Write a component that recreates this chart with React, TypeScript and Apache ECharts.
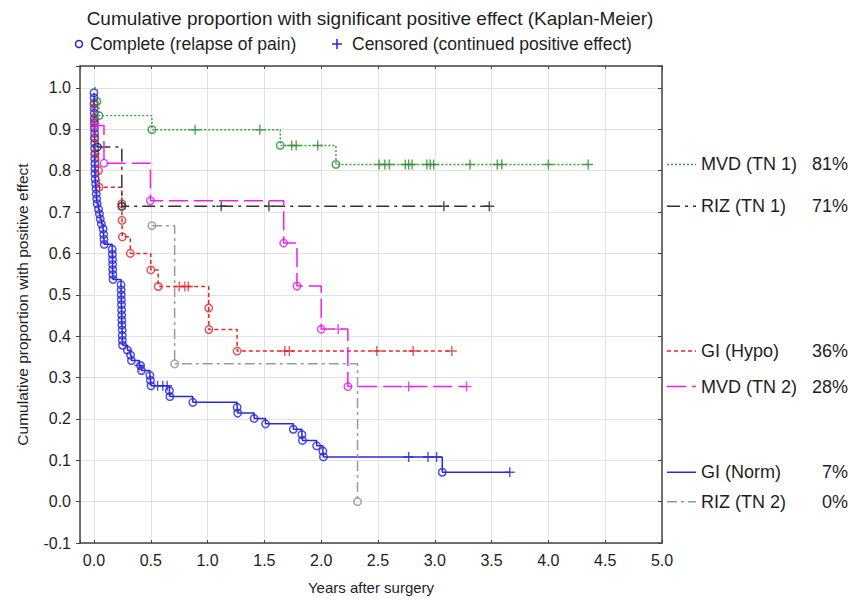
import React, { useEffect, useRef } from 'react';
import * as echarts from 'echarts';

const FONT = '"Liberation Sans", Arial, Helvetica, sans-serif';

const TITLE = 'Cumulative proportion with significant positive effect (Kaplan-Meier)';
const LEGEND_COMPLETE = 'Complete (relapse of pain)';
const LEGEND_CENSORED = 'Censored (continued positive effect)';
const X_NAME = 'Years after surgery';
const Y_NAME = 'Cumulative proportion with positive effect';

const GROUP_NAMES = ['MVD (TN 1)', 'RIZ (TN 1)', 'GI (Hypo)', 'MVD (TN 2)', 'GI (Norm)', 'RIZ (TN 2)'];
const FINAL_PCT = ['81%', '71%', '36%', '28%', '7%', '0%'];

// [years, cumulative proportion] at each relapse (complete) and censored case
const MVD1_EVENTS = [[0.0, 1.0], [0.026, 0.967], [0.044, 0.933], [0.51, 0.899], [1.64, 0.861], [2.13, 0.815]];
const MVD1_CENSORED = [
  [0.89, 0.899], [1.46, 0.899], [1.74, 0.861], [1.78, 0.861], [1.97, 0.861],
  [2.51, 0.815], [2.56, 0.815], [2.60, 0.815], [2.74, 0.815], [2.77, 0.815], [2.80, 0.815],
  [2.93, 0.815], [2.96, 0.815], [2.99, 0.815], [3.31, 0.815], [3.55, 0.815], [3.59, 0.815],
  [4.00, 0.815], [4.35, 0.815],
];

const RIZ1_EVENTS = [[0.03, 0.857], [0.245, 0.714]];
const RIZ1_CENSORED = [[1.12, 0.714], [1.54, 0.714], [3.08, 0.714], [3.48, 0.714]];

const HYPO_EVENTS = [
  [0.0, 0.96], [0.004, 0.92], [0.007, 0.88], [0.01, 0.84], [0.04, 0.80], [0.045, 0.76],
  [0.245, 0.72], [0.247, 0.68], [0.25, 0.64], [0.32, 0.60], [0.50, 0.56], [0.565, 0.52],
  [1.01, 0.468], [1.012, 0.416], [1.26, 0.364],
];
const HYPO_CENSORED = [
  [0.75, 0.52], [0.80, 0.52], [0.83, 0.52],
  [1.68, 0.364], [1.72, 0.364], [2.49, 0.364], [2.81, 0.364], [3.15, 0.364],
];

const MVD2_EVENTS = [
  [0.003, 0.909], [0.088, 0.818], [0.497, 0.727], [1.67, 0.625], [1.787, 0.521], [2.0, 0.417], [2.235, 0.278],
];
const MVD2_CENSORED = [[2.15, 0.417], [2.77, 0.278], [3.28, 0.278]];

const NORM_EVENTS = [
  [0.000, 0.988], [0.001, 0.976], [0.002, 0.963], [0.002, 0.951], [0.003, 0.939], [0.003, 0.927],
  [0.004, 0.915], [0.004, 0.902], [0.005, 0.890], [0.005, 0.878], [0.006, 0.866], [0.006, 0.854],
  [0.007, 0.841], [0.007, 0.829], [0.008, 0.817], [0.008, 0.805], [0.009, 0.793], [0.010, 0.780],
  [0.015, 0.768], [0.018, 0.756], [0.020, 0.744], [0.024, 0.732], [0.028, 0.720],
  [0.040, 0.707], [0.048, 0.695], [0.055, 0.683], [0.065, 0.671],
  [0.080, 0.659], [0.085, 0.646], [0.088, 0.634], [0.090, 0.622],
  [0.160, 0.610], [0.162, 0.598], [0.163, 0.585], [0.164, 0.573], [0.165, 0.561], [0.166, 0.549], [0.168, 0.537],
  [0.238, 0.524], [0.239, 0.512], [0.240, 0.500], [0.241, 0.488], [0.242, 0.476], [0.243, 0.463],
  [0.244, 0.451], [0.245, 0.439], [0.246, 0.427], [0.248, 0.415], [0.249, 0.402], [0.250, 0.390], [0.252, 0.378],
  [0.295, 0.366], [0.322, 0.354], [0.330, 0.341], [0.410, 0.329], [0.418, 0.317],
  [0.492, 0.305], [0.497, 0.293], [0.502, 0.280],
  [0.664, 0.268], [0.668, 0.254], [0.870, 0.240], [1.260, 0.228], [1.265, 0.214], [1.410, 0.201],
  [1.510, 0.188], [1.755, 0.175], [1.830, 0.162], [1.835, 0.148], [1.960, 0.135], [2.015, 0.122],
  [2.020, 0.108], [3.066, 0.071],
];
const NORM_CENSORED = [
  [0.40, 0.329], [0.56, 0.280], [0.606, 0.280], [0.644, 0.280],
  [2.77, 0.108], [2.94, 0.108], [3.016, 0.108], [3.66, 0.071],
];

const RIZ2_EVENTS = [[0.51, 0.667], [0.71, 0.333], [2.32, 0.0]];
const RIZ2_CENSORED: number[][] = [];

const PLUS = 'path://M0,4.3h10v1.4h-10zM4.3,0h1.4v10h-1.4z';

type Group = {
  name: string;
  pct: string;
  events: number[][];
  censored: number[][];
  color: string;
  mark: string;
  dash: any;
  width: number;
};

const GROUPS: Group[] = [
  { name: GROUP_NAMES[4], pct: FINAL_PCT[4], events: NORM_EVENTS, censored: NORM_CENSORED, color: '#2a2ad6', mark: '#2323e0', dash: 'solid', width: 1.5 },
  { name: GROUP_NAMES[2], pct: FINAL_PCT[2], events: HYPO_EVENTS, censored: HYPO_CENSORED, color: '#e8262a', mark: '#d83030', dash: [4, 3], width: 1.5 },
  { name: GROUP_NAMES[5], pct: FINAL_PCT[5], events: RIZ2_EVENTS, censored: RIZ2_CENSORED, color: '#9a9a9a', mark: '#8f8f8f', dash: [10, 4, 3, 4], width: 1.5 },
  { name: GROUP_NAMES[1], pct: FINAL_PCT[1], events: RIZ1_EVENTS, censored: RIZ1_CENSORED, color: '#333333', mark: '#222222', dash: [13, 5, 3, 5], width: 1.5 },
  { name: GROUP_NAMES[3], pct: FINAL_PCT[3], events: MVD2_EVENTS, censored: MVD2_CENSORED, color: '#ee1eee', mark: '#e01ee0', dash: [19, 6], width: 1.5 },
  { name: GROUP_NAMES[0], pct: FINAL_PCT[0], events: MVD1_EVENTS, censored: MVD1_CENSORED, color: '#3a9e3a', mark: '#2a8a2a', dash: [2, 2], width: 1.4 },
];

// the step curve starts at the first observed point of each group
function stepData(events: number[][], censored: number[][]) {
  return [...events, ...censored].sort((a, b) => a[0] - b[0] || b[1] - a[1]);
}

function finalValue(g: Group) {
  const pts = stepData(g.events, g.censored);
  return pts[pts.length - 1][1];
}

export default function App() {
  const ref = useRef<HTMLDivElement>(null);
  useEffect(() => {
    if (!ref.current) return;
    const chart = echarts.init(ref.current, undefined, { renderer: 'svg' });
    const series: any[] = [];
    GROUPS.forEach((g) => {
      series.push({
        type: 'line',
        name: g.name,
        step: 'end',
        data: stepData(g.events, g.censored),
        symbol: 'none',
        lineStyle: { color: g.color, width: g.width, type: g.dash },
        silent: true,
      });
      series.push({
        type: 'scatter',
        data: g.events.filter((e) => e[1] < 1),
        symbol: 'circle',
        symbolSize: 7.5,
        itemStyle: { color: 'rgba(255,255,255,0)', borderColor: g.mark, borderWidth: 1.5 },
        silent: true,
      });
      if (g.censored.length) {
        series.push({
          type: 'scatter',
          data: g.censored,
          symbol: PLUS,
          symbolSize: 10,
          itemStyle: { color: g.mark },
          silent: true,
        });
      }
    });

    const axisLineStyle = { color: '#444', width: 1.5 };
    const labelStyle = { color: '#1e1e1e', fontSize: 16, fontFamily: FONT };
    const fmt = (v: number, lim: number, step: number) => {
      const r = Math.round(v / step) * step;
      if (Math.abs(v - r) > 1e-6 || v > lim + 1e-6) return '';
      const val = Math.abs(r) < 1e-9 ? 0 : r;
      return val.toFixed(1);
    };

    const option: any = {
      animation: false,
      backgroundColor: '#fff',
      grid: { left: 80, right: 198, top: 66, bottom: 55, containLabel: false },
      xAxis: [
        {
          type: 'value', min: -0.123, max: 5, splitNumber: 10, position: 'bottom',
          axisLine: { show: true, onZero: false, lineStyle: axisLineStyle },
          axisTick: { show: true, inside: true, length: 3, lineStyle: { color: '#444' } },
          axisLabel: { ...labelStyle, margin: 9, formatter: (v: number) => fmt(v, 5, 0.5) },
          splitLine: { show: true, lineStyle: { color: '#e2e2e2', width: 1 } },
          name: X_NAME, nameLocation: 'middle', nameGap: 37,
          nameTextStyle: { color: '#1e1e1e', fontSize: 15, fontFamily: FONT },
        },
        {
          type: 'value', min: -0.123, max: 5, splitNumber: 10, position: 'top',
          axisLine: { show: true, onZero: false, lineStyle: axisLineStyle },
          axisTick: { show: true, inside: true, length: 3, lineStyle: { color: '#444' } },
          axisLabel: { show: false },
          splitLine: { show: false },
        },
      ],
      yAxis: [
        {
          type: 'value', min: -0.1, max: 1.053, interval: 0.1, position: 'left',
          axisLine: { show: true, onZero: false, lineStyle: axisLineStyle },
          axisTick: { show: true, inside: false, length: 4, lineStyle: { color: '#444' } },
          axisLabel: { ...labelStyle, margin: 9, formatter: (v: number) => fmt(v, 1.0, 0.1) },
          splitLine: { show: true, lineStyle: { color: '#e2e2e2', width: 1 } },
          name: Y_NAME, nameLocation: 'middle', nameGap: 50, nameRotate: 90,
          nameTextStyle: { color: '#1e1e1e', fontSize: 15.5, fontFamily: FONT },
        },
        {
          type: 'value', min: -0.1, max: 1.053, interval: 0.1, position: 'right',
          axisLine: { show: true, onZero: false, lineStyle: axisLineStyle },
          axisTick: { show: true, inside: true, length: 4, lineStyle: { color: '#444' } },
          axisLabel: { show: false },
          splitLine: { show: false },
        },
      ],
      series,
    };
    chart.setOption(option);

    const titleFont = `19px ${FONT}`;
    const legFont = `17.5px ${FONT}`;
    const labFont = `18px ${FONT}`;
    const graphics: any[] = [
      {
        type: 'text', x: 370, y: 18,
        style: { text: TITLE, font: titleFont, fill: '#1e1e1e', align: 'center', verticalAlign: 'middle', textAlign: 'center', textVerticalAlign: 'middle' },
      },
      { type: 'circle', shape: { cx: 79, cy: 44, r: 3.5 }, style: { fill: 'none', stroke: '#2323e0', lineWidth: 1.5 } },
      {
        type: 'text', x: 90, y: 44,
        style: { text: LEGEND_COMPLETE, font: legFont, fill: '#1e1e1e', align: 'left', verticalAlign: 'middle', textVerticalAlign: 'middle' },
      },
      { type: 'line', shape: { x1: 332, y1: 44, x2: 342, y2: 44 }, style: { stroke: '#2323e0', lineWidth: 1.5 } },
      { type: 'line', shape: { x1: 337, y1: 39, x2: 337, y2: 49 }, style: { stroke: '#2323e0', lineWidth: 1.5 } },
      {
        type: 'text', x: 352, y: 44,
        style: { text: LEGEND_CENSORED, font: legFont, fill: '#1e1e1e', align: 'left', verticalAlign: 'middle', textVerticalAlign: 'middle' },
      },
    ];
    GROUPS.forEach((g) => {
      const p = chart.convertToPixel({ gridIndex: 0 }, [0, finalValue(g)]) as number[];
      const y = p[1];
      graphics.push({
        type: 'line', shape: { x1: 667, y1: y, x2: 696, y2: y },
        style: { stroke: g.color, lineWidth: g.width, lineDash: Array.isArray(g.dash) ? g.dash : null },
      });
      graphics.push({
        type: 'text', x: 701, y,
        style: { text: g.name, font: labFont, fill: '#1e1e1e', align: 'left', verticalAlign: 'middle', textVerticalAlign: 'middle' },
      });
      graphics.push({
        type: 'text', x: 848, y,
        style: { text: g.pct, font: labFont, fill: '#1e1e1e', align: 'right', verticalAlign: 'middle', textAlign: 'right', textVerticalAlign: 'middle' },
      });
    });
    chart.setOption({ graphic: graphics });

    return () => chart.dispose();
  }, []);
  return <div ref={ref} style={{ position: 'fixed', left: 0, top: 0, width: 860, height: 600, background: '#fff' }} />;
}
